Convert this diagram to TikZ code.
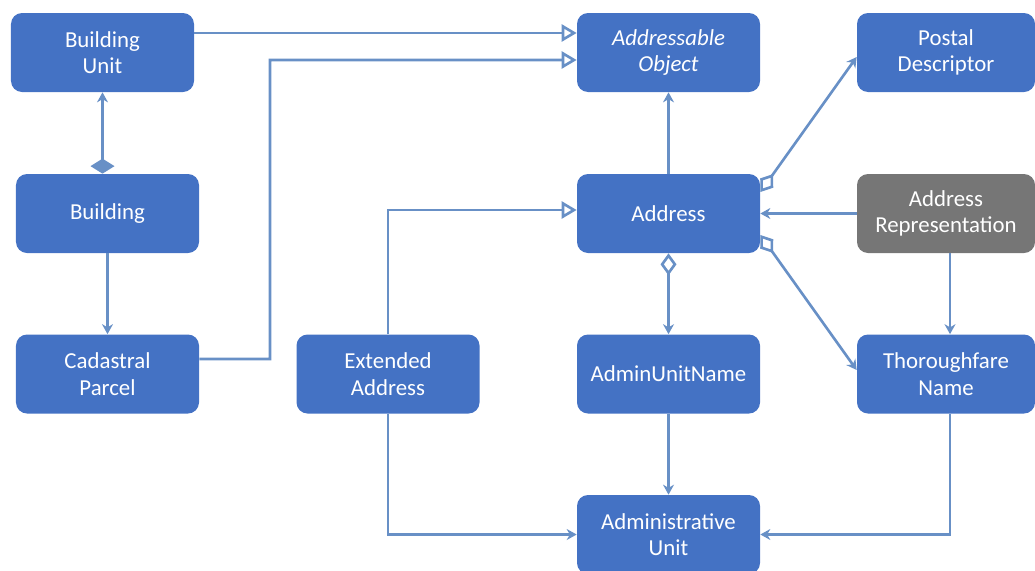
\documentclass[tikz,border=0pt]{standalone}
\usepackage{fontspec}
\setmainfont{Carlito}
\usetikzlibrary{positioning,arrows.meta}
\definecolor{boxblue}{RGB}{68,114,196}
\definecolor{boxgray}{RGB}{118,118,118}
\definecolor{linkblue}{RGB}{104,144,198}
\tikzset{
  cls/.style={fill=boxblue, rounded corners=0.22cm, minimum width=3.66cm, minimum height=1.58cm, text=white, align=center, font=\fontsize{13}{15}\selectfont},
  link/.style={color=linkblue, line width=1.5pt},
  assoc/.style={link, -{Stealth[length=2mm,width=2.2mm]}},
  gen/.style={link, -{Triangle[open,length=3mm,width=3.4mm,fill=white]}},
  agg/.style={link, {Diamond[open,length=4.4mm,width=3.2mm,fill=white]}-{Stealth[length=2mm,width=2.2mm]}},
  comp/.style={link, {Diamond[length=3mm,width=4.8mm]}-{Stealth[length=2mm,width=2.2mm]}}
}

\begin{document}
\begin{tikzpicture}[node distance=3.21cm and 5.58cm, on grid]
\useasboundingbox (0,0) rectangle (20.7,-11.4);

\node[cls] (bldg) at (2.15,-4.27) {Building}; \node[cls, above=3.22cm of bldg, xshift=-0.1cm] (bunit) {Building\\Unit}; \node[cls, below=of bldg] (parcel) {Cadastral\\Parcel};
\node[cls] (addr) at (13.37,-4.27) {Address}; \node[cls, above=3.22cm of addr] (addrobj) {\itshape Addressable\\\itshape Object}; \node[cls, below=of addr] (aun) {AdminUnitName}; \node[cls, below=of aun] (admunit) {Administrative\\Unit};
\node[cls, left=5.61cm of aun] (extaddr) {Extended\\Address};
\node[cls, fill=boxgray, minimum width=3.56cm, right=5.55cm of addr] (addrrep) {Address\\Representation};
\node[cls, minimum width=3.56cm, above=3.22cm of addrrep] (postal) {Postal\\Descriptor}; \node[cls, minimum width=3.56cm, below=of addrrep] (thfare) {Thoroughfare\\Name};
\coordinate (parcelturn) at (5.4,-1.2);

\draw[gen] ([yshift=0.39cm]bunit.east) -- ([yshift=0.39cm]addrobj.west);
\draw[gen] ([yshift=0.3cm]parcel.east) -| (parcelturn) -- ([yshift=-0.15cm]addrobj.west);
\draw[comp] (bunit.south |- bldg.north) -- (bunit.south);
\draw[assoc] (bldg.south) -- (parcel.north);
\draw[assoc] (addr.north) -- (addrobj.south);
\draw[agg] ([yshift=0.43cm]addr.east) -- ([yshift=-0.09cm]postal.west);
\draw[agg] ([yshift=-0.43cm]addr.east) -- ([yshift=0.08cm]thfare.west);
\draw[agg] (addr.south) -- (aun.north);
\draw[assoc] (addrrep.west) -- (addr.east);
\draw[assoc] ([xshift=0.08cm]addrrep.south) -- ([xshift=0.08cm]thfare.north);
\draw[gen] (extaddr.north) |- ([yshift=0.07cm]addr.west);
\draw[assoc] (extaddr.south) |- (admunit.west);
\draw[assoc] (aun.south) -- (admunit.north);
\draw[assoc] ([xshift=0.08cm]thfare.south) |- (admunit.east);
\end{tikzpicture}
\end{document}
